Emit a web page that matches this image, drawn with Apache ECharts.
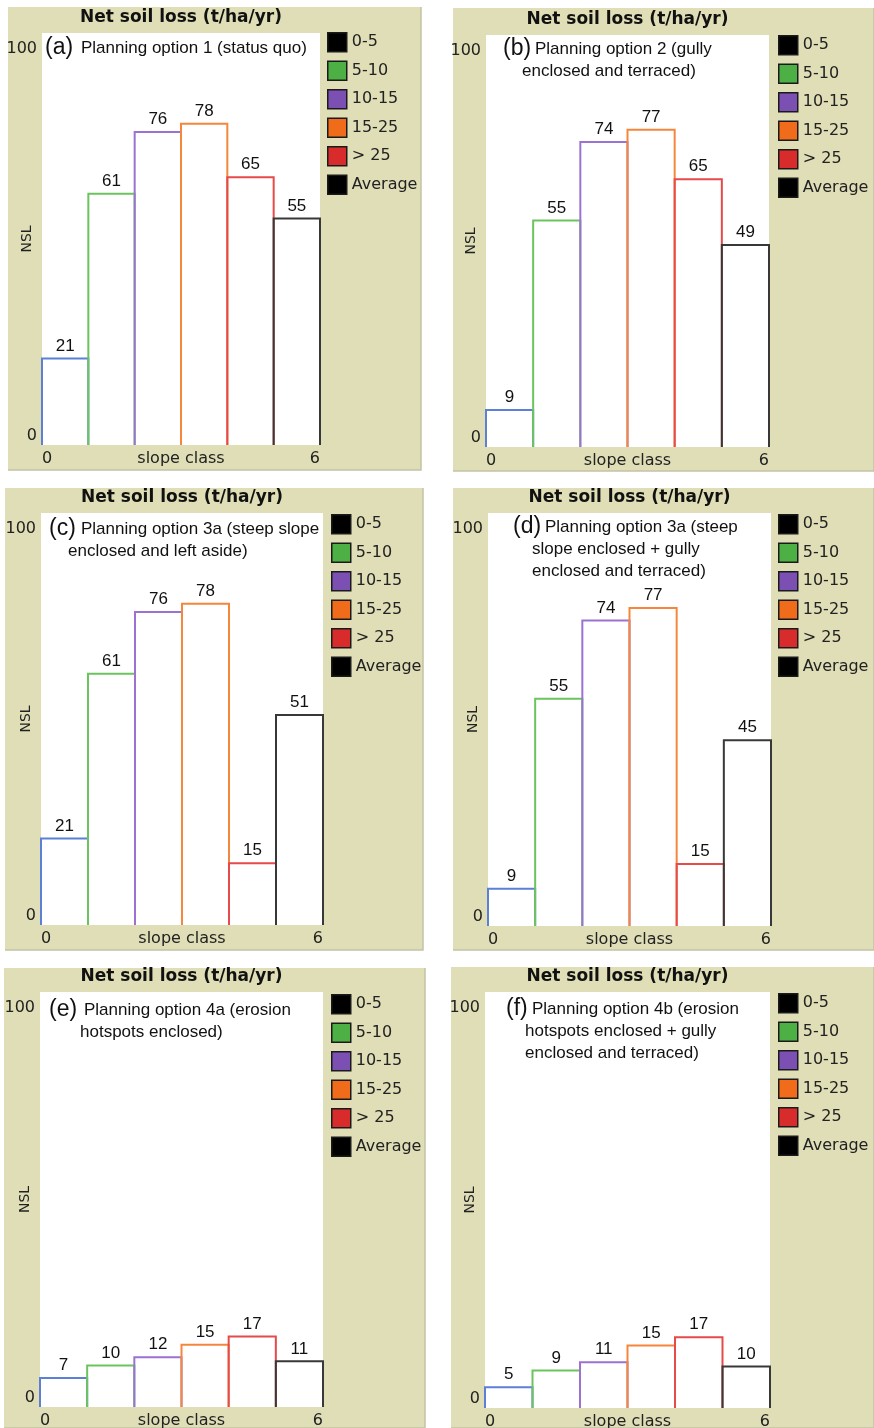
<!DOCTYPE html>
<html>
<head>
<meta charset="utf-8">
<script src="https://cdn.jsdelivr.net/npm/echarts@6/dist/echarts.min.js"></script>
<style>
  html, body { margin: 0; padding: 0; background: #fff; }
  #nslChart { width: 874px; height: 1428px; }
</style>
</head>
<body>
<div id="nslChart"></div>
<script>
// slope classes (legend) and net soil loss per planning option
const slopeClasses = ['0-5', '5-10', '10-15', '15-25', '> 25', 'Average']
const nslA = [21, 61, 76, 78, 65, 55]
const nslB = [9, 55, 74, 77, 65, 49]
const nslC = [21, 61, 76, 78, 15, 51]
const nslD = [9, 55, 74, 77, 15, 45]
const nslE = [7, 10, 12, 15, 17, 11]
const nslF = [5, 9, 11, 15, 17, 10]
const panelData = [nslA, nslB, nslC, nslD, nslE, nslF]

const chartTitle = 'Net soil loss (t/ha/yr)'
const yAxisName = 'NSL'
const xAxisName = 'slope class'
const xTicks = [0, 6]
const yTicks = [0, 100]

const panelTags = ['(a)', '(b)', '(c)', '(d)', '(e)', '(f)']
const captionLines = [
  ['Planning option 1 (status quo)'],
  ['Planning option 2 (gully', 'enclosed and terraced)'],
  ['Planning option 3a (steep slope', 'enclosed and left aside)'],
  ['Planning option 3a (steep', 'slope enclosed + gully', 'enclosed and terraced)'],
  ['Planning option 4a (erosion', 'hotspots enclosed)'],
  ['Planning option 4b (erosion', 'hotspots enclosed + gully', 'enclosed and terraced)']
]

// layout (px)
const panelBox = [[8, 7, 413, 463], [453, 8, 421, 463], [5, 488, 418, 462], [453, 488, 421, 462], [4, 968, 421, 460], [451, 967, 423, 461]]
const plotBox = [[42, 33, 278, 412], [486, 35, 283, 412], [41, 513, 282, 412], [488, 513, 283, 413], [40, 992, 283, 415], [485, 992, 285, 416]]
const legendPos = [[327, 32], [778, 35], [331, 514], [778, 514], [331, 994], [778, 993]]
// caption: tag x, text x, first line y, continuation x
const captionPos = [[45, 81, 48, 81], [503, 535, 49, 522], [49, 81, 529, 68], [513, 545, 527, 532], [49, 84, 1010, 80], [506, 532, 1009, 525]]

const beige = '#dfdeb6'
const lineColors = ['#5b80d6', '#6cc45e', '#9b72d2', '#f5873c', '#e64a4a', '#383838']
const legendFill = ['#000000', '#4cb044', '#7b50b2', '#f06c1a', '#d82c2c', '#000000']

const sansFont = 'DejaVu Sans'
const capFont = 'Liberation Sans'

function renderBar(params, api) {
  const i = api.value(0)
  const v = api.value(1)
  const tl = api.coord([i, v])
  const br = api.coord([i + 1, 0])
  return {
    type: 'group',
    children: [
      {
        type: 'polyline',
        shape: { points: [[tl[0], br[1]], [tl[0], tl[1]], [br[0], tl[1]], [br[0], br[1]]] },
        style: { stroke: api.visual('color'), fill: null, lineWidth: 2 }
      },
      {
        type: 'text',
        x: (tl[0] + br[0]) / 2,
        y: tl[1] - 4,
        style: { text: String(v), align: 'center', verticalAlign: 'bottom', fontFamily: capFont, fontSize: 17, fill: '#111' }
      }
    ]
  }
}

const graphics = []
panelBox.forEach((b) => {
  graphics.push({ type: 'rect', z: -10, shape: { x: b[0], y: b[1], width: b[2], height: b[3] }, style: { fill: beige } })
  graphics.push({
    type: 'polyline', z: -9,
    shape: { points: [[b[0] + b[2], b[1]], [b[0] + b[2], b[1] + b[3]], [b[0], b[1] + b[3]]] },
    style: { stroke: '#c4c4a6', lineWidth: 1.5, fill: null }
  })
})
captionPos.forEach((c, k) => {
  graphics.push({ type: 'text', z: 50, x: c[0], y: c[2], style: { text: panelTags[k], fontFamily: capFont, fontSize: 23, fill: '#111', verticalAlign: 'middle' } })
  captionLines[k].forEach((line, n) => {
    graphics.push({
      type: 'text', z: 50, x: n === 0 ? c[1] : c[3], y: c[2] + n * 22,
      style: { text: line, fontFamily: capFont, fontSize: 17, fill: '#111', verticalAlign: 'middle' }
    })
  })
})

const chart = echarts.init(document.getElementById('nslChart'))
chart.setOption({
  animation: false,
  backgroundColor: '#fff',
  graphic: graphics,
  title: plotBox.map((p) => ({
    text: chartTitle,
    left: p[0] + p[2] / 2,
    top: p[1] - 24,
    textAlign: 'center',
    padding: 0,
    textStyle: { fontFamily: sansFont, fontWeight: 'bold', fontSize: 17, color: '#111' }
  })),
  legend: legendPos.map((l) => ({
    orient: 'vertical',
    left: l[0],
    top: l[1],
    padding: 0,
    itemWidth: 19,
    itemHeight: 19,
    itemGap: 8,
    icon: 'rect',
    selectedMode: false,
    data: slopeClasses.map((c, j) => ({ name: c, itemStyle: { color: legendFill[j], borderColor: '#1a1a1a', borderWidth: 1.5 } })),
    textStyle: { fontFamily: sansFont, fontSize: 16, color: '#222', lineHeight: 19 }
  })),
  grid: plotBox.map((p) => ({
    left: p[0], top: p[1], width: p[2], height: p[3],
    show: true, backgroundColor: '#fff', borderWidth: 0,
    containLabel: false, outerBoundsMode: 'none'
  })),
  xAxis: plotBox.map((p, k) => ({
    type: 'value', gridIndex: k,
    min: xTicks[0], max: xTicks[1], interval: xTicks[1] - xTicks[0],
    axisLine: { show: false }, axisTick: { show: false }, splitLine: { show: false },
    axisLabel: { fontFamily: sansFont, fontSize: 16, color: '#222', margin: 6, alignMinLabel: 'left', alignMaxLabel: 'right' },
    name: xAxisName, nameLocation: 'middle', nameGap: 6, nameMoveOverlap: false,
    nameTextStyle: { fontFamily: sansFont, fontSize: 16, color: '#222', verticalAlign: 'top' }
  })),
  yAxis: plotBox.map((p, k) => ({
    type: 'value', gridIndex: k,
    min: yTicks[0], max: yTicks[1], interval: yTicks[1] - yTicks[0],
    axisLine: { show: false }, axisTick: { show: false }, splitLine: { show: false },
    axisLabel: {
      fontFamily: sansFont, fontSize: 16, color: '#222', margin: 5,
      verticalAlignMaxLabel: 'top', verticalAlignMinLabel: 'bottom', padding: [8, 0, 1, 0]
    },
    name: yAxisName, nameLocation: 'middle', nameRotate: 90, nameGap: 8, nameMoveOverlap: false,
    nameTextStyle: { fontFamily: sansFont, fontSize: 14, color: '#222' }
  })),
  series: panelData.flatMap((vals, k) => slopeClasses.map((c, j) => ({
    name: c,
    type: 'custom',
    xAxisIndex: k,
    yAxisIndex: k,
    itemStyle: { color: lineColors[j] },
    renderItem: renderBar,
    data: [[j, vals[j]]]
  })))
})
</script>
</body>
</html>
